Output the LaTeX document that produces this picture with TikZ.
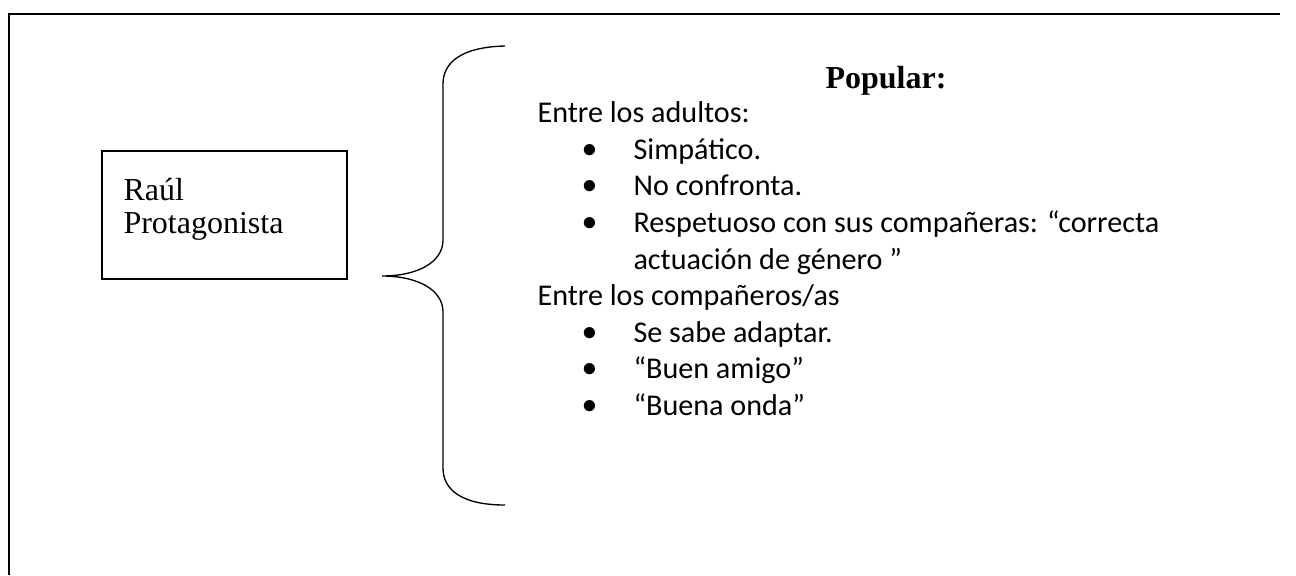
\documentclass[tikz,border=0pt]{standalone}
\usepackage{fontspec}
\setmainfont{Liberation Serif}
\newfontfamily\cuerpo{Carlito}
\newfontfamily\vineta{DejaVu Sans}

\begin{document}
\begin{tikzpicture}[x=.375pt,y=-.375pt,
  caja/.style={draw,line width=.65pt,inner sep=0pt,minimum width=91.9pt,minimum height=48pt},
  nombre/.style={anchor=base west,inner sep=0pt,font=\fontsize{12}{14}\selectfont},
  linea/.style={anchor=base west,inner sep=0pt,font=\cuerpo\fontsize{11.3}{13}\selectfont},
  punto/.style={anchor=base,inner sep=0pt,yshift=-1.9pt,font=\vineta\fontsize{14.5}{15}\selectfont}]
\useasboundingbox (0,0) rectangle (1296,575);
\draw[line width=.75pt] (9,575) -- (9,14) -- (1280,14);
\node[caja] (personaje) at (224.5,215) {};
\node[nombre] (raul) at (123,200) {Raúl};
\node[nombre] (rol) at (123,233) {Protagonista};
\draw[line width=.5pt] (505,46) .. controls (462,47) and (443,62) .. (443,84) -- (443,240)
  .. controls (443,262) and (418,276) .. (382,276)
  .. controls (418,276) and (443,290) .. (443,312) -- (443,468)
  .. controls (443,490) and (462,505) .. (505,505);
\node[anchor=base,inner sep=0pt,font=\bfseries\fontsize{12}{14}\selectfont] (popular) at (886,88) {Popular:};
\node[linea] (adultos) at (537,122) {Entre los adultos:};
\node[punto] (p1) at (590,159) {•};
\node[linea] (l1) at (633,159) {Simpático.};
\node[punto] (p2) at (590,195.5) {•};
\node[linea] (l2) at (633,195.5) {No confronta.};
\node[punto] (p3) at (590,232) {•};
\node[linea] (l3) at (633,232) {Respetuoso con sus compañeras: “correcta};
\node[linea] (l3b) at (633,269) {actuación de género ”};
\node[linea] (pares) at (537,305.5) {Entre los compañeros/as};
\node[punto] (p4) at (590,342) {•};
\node[linea] (l4) at (633,342) {Se sabe adaptar.};
\node[punto] (p5) at (590,378.5) {•};
\node[linea] (l5) at (633,378.5) {“Buen amigo”};
\node[punto] (p6) at (590,415) {•};
\node[linea] (l6) at (633,415) {“Buena onda”};
\end{tikzpicture}
\end{document}
